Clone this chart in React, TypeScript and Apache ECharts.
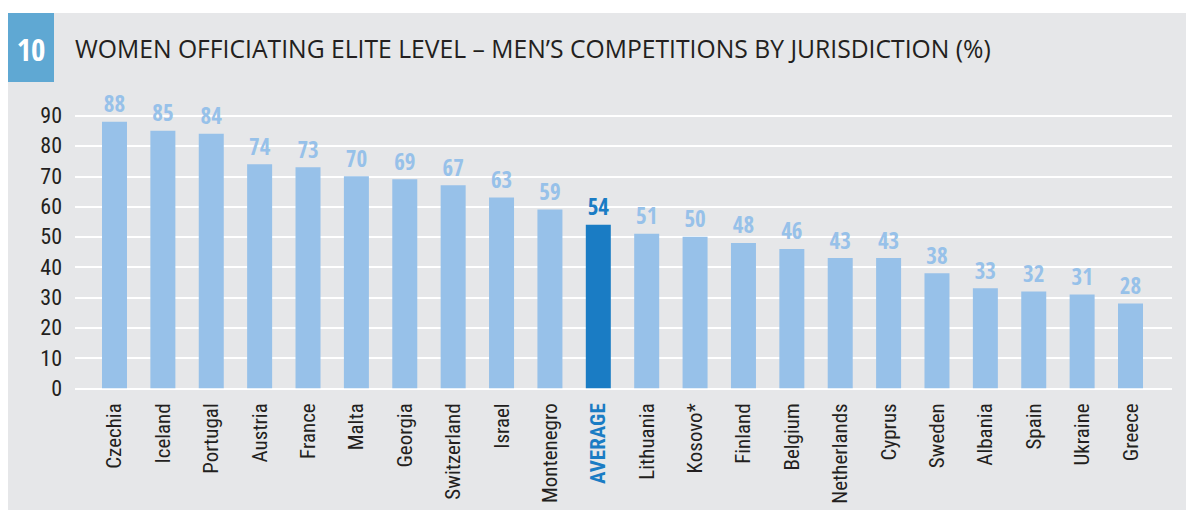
import React, { useEffect, useRef } from "react";
import * as echarts from "echarts";

const categories = [
  "Czechia", "Iceland", "Portugal", "Austria", "France", "Malta", "Georgia",
  "Switzerland", "Israel", "Montenegro", "AVERAGE", "Lithuania", "Kosovo*",
  "Finland", "Belgium", "Netherlands", "Cyprus", "Sweden", "Albania", "Spain",
  "Ukraine", "Greece",
];
const values = [88, 85, 84, 74, 73, 70, 69, 67, 63, 59, 54, 51, 50, 48, 46, 43, 43, 38, 33, 32, 31, 28];
const highlight = "AVERAGE";
const yTicks = [0, 10, 20, 30, 40, 50, 60, 70, 80, 90];
const titleText = "WOMEN OFFICIATING ELITE LEVEL \u2013 MEN\u2019S COMPETITIONS BY JURISDICTION (%)";
const chartNumber = "10";

const LIGHT = "#97c1e9";
const DARK = "#1a7cc4";
const INK = "#231f20";
const COND = "'Roboto Condensed', 'Liberation Sans', sans-serif";
const COND_BOLD = "'Open Sans Condensed', 'Roboto Condensed', sans-serif";

export default function App() {
  const ref = useRef<HTMLDivElement>(null);
  useEffect(() => {
    if (!ref.current) return;
    const chart = echarts.init(ref.current, undefined, { renderer: "svg" });
    const top = 115.7;
    const bottom = 510 - 388.3;
    chart.setOption({
      animation: false,
      backgroundColor: "#ffffff",
      graphic: [
        { type: "rect", z: -10, shape: { x: 8, y: 13, width: 1178, height: 497 }, style: { fill: "#e6e7e9" } },
        { type: "rect", z: -5, shape: { x: 8, y: 13, width: 46, height: 69 }, style: { fill: "#5fa8d3" } },
        {
          type: "text", x: 31, y: 49,
          style: { text: chartNumber, fill: "#ffffff", font: `bold 31px ${COND_BOLD}`, align: "center", verticalAlign: "middle" },
        },
        {
          type: "text", x: 75, y: 48,
          style: { text: titleText, fill: INK, font: "24.7px 'Open Sans', sans-serif", verticalAlign: "middle" },
        },
      ],
      grid: [
        { left: 75, right: 14, top, bottom, outerBoundsMode: "none", containLabel: false },
        { left: 90.3, right: 31.3, top, bottom, outerBoundsMode: "none", containLabel: false },
      ],
      xAxis: [
        { type: "value", gridIndex: 0, min: 0, max: 1, show: false },
        {
          type: "category", gridIndex: 1,
          data: categories.map((c) =>
            c === highlight
              ? { value: c, textStyle: { color: DARK, fontWeight: "bold" } }
              : c
          ),
          axisLine: { show: false }, axisTick: { show: false },
          axisLabel: { rotate: 90, interval: 0, margin: 15, color: INK, fontSize: 21, fontFamily: COND },
        },
      ],
      yAxis: [
        {
          type: "value", gridIndex: 0, min: yTicks[0], max: yTicks[yTicks.length - 1], interval: 10,
          axisLine: { show: false }, axisTick: { show: false },
          splitLine: { lineStyle: { color: "#ffffff", width: 2 } },
          axisLabel: { margin: 13, color: INK, fontSize: 22, fontFamily: COND },
        },
        { type: "value", gridIndex: 1, min: 0, max: 90, show: false },
      ],
      series: [
        {
          type: "bar", xAxisIndex: 1, yAxisIndex: 1, barWidth: 25,
          data: values.map((v, i) => {
            const hi = categories[i] === highlight;
            return {
              value: v,
              itemStyle: { color: hi ? DARK : LIGHT },
              label: { color: hi ? DARK : LIGHT },
            };
          }),
          label: { show: true, position: "top", distance: 7, fontSize: 23, fontWeight: "bold", fontFamily: COND_BOLD },
        },
      ],
    });
    return () => chart.dispose();
  }, []);
  return <div ref={ref} style={{ position: "absolute", left: 0, top: 0, width: 1186, height: 510 }} />;
}
